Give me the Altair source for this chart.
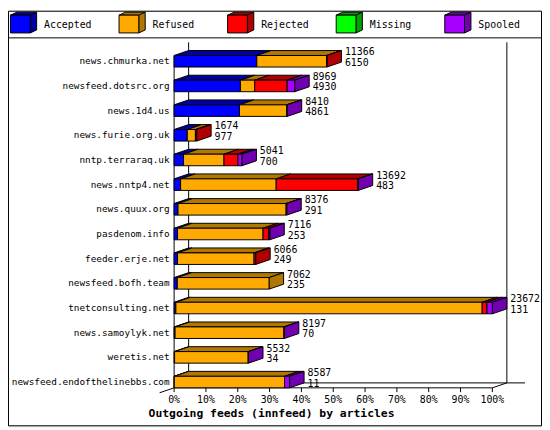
import altair as alt
import pandas as pd

# ---------------- data ----------------
hosts = ["news.chmurka.net", "newsfeed.dotsrc.org", "news.1d4.us", "news.furie.org.uk",
         "nntp.terraraq.uk", "news.nntp4.net", "news.quux.org", "pasdenom.info",
         "feeder.erje.net", "newsfeed.bofh.team", "tnetconsulting.net", "news.samoylyk.net",
         "weretis.net", "newsfeed.endofthelinebbs.com"]
offered = [11366, 8969, 8410, 1674, 5041, 13692, 8376, 7116, 6066, 7062, 23672, 8197, 5532, 8587]
accepted = [6150, 4930, 4861, 977, 700, 483, 291, 253, 249, 235, 131, 70, 34, 11]
refused = [5196, 1060, 3520, 607, 3010, 7110, 8040, 6360, 5697, 6827, 22783, 8097, 5473, 8203]
rejected = [20, 2420, 0, 90, 1040, 6079, 0, 420, 120, 0, 357, 0, 0, 0]
missing = [0, 0, 0, 0, 0, 0, 0, 0, 0, 0, 0, 0, 0, 0]
spooled = [0, 559, 29, 0, 291, 20, 45, 83, 0, 0, 401, 30, 25, 373]

categories = ["Accepted", "Refused", "Rejected", "Missing", "Spooled"]
front_colors = ["#0000FF", "#FFAA00", "#FF0000", "#00FF00", "#A800FF"]
dark_colors = ["#0000A0", "#B07800", "#B00000", "#00A000", "#7000B0"]

tick_values = [0, 10, 20, 30, 40, 50, 60, 70, 80, 90, 100]
tick_labels = ["0%", "10%", "20%", "30%", "40%", "50%", "60%", "70%", "80%", "90%", "100%"]
title_text = "Outgoing feeds (innfeed) by articles"

# ---------------- layout / style ----------------
W, H = 541, 421
X0_PX, X100_PX = 168.3, 490.7
ROW0_PX, ROW_STEP = 51.2, 25.0
PX_PER_PCT = (X100_PX - X0_PX) / 100.0
DEPTH_X = 14.7 / PX_PER_PCT
DEPTH_Y = 5.0 / ROW_STEP
HALF = 5.85 / ROW_STEP
BACK_TOP = -19.2 / ROW_STEP
MONO = "DejaVu Sans Mono"
LEG_FIRST_PX, LEG_STEP_PX = 15.75, 110.0
LEG_Y = 12.0

n = len(hosts)
xs = alt.Scale(domain=[0, 100], range=[X0_PX, X100_PX], nice=False, zero=False)
ys = alt.Scale(domain=[0, n - 1], range=[ROW0_PX, ROW0_PX + ROW_STEP * (n - 1)], nice=False, zero=False)
FLOOR_PX = ROW0_PX + ROW_STEP * (n - 1) + 5.85

series = [accepted, refused, rejected, missing, spooled]
maxv = max(offered)

front, top, side, rows = [], [], [], []
sid = 0
for k, h in enumerate(hosts):
    cum = 0.0
    last = None
    for c, vals, fc, dc in zip(categories, series, front_colors, dark_colors):
        if vals[k] <= 0:
            continue
        v = vals[k] / maxv * 100.0
        front.append(dict(k=k, x0=cum, x1=cum + v, fc=fc, yt=k - HALF, yb=k + HALF))
        top.append(dict(id=sid, yy=k - HALF, xa=cum, xb=cum + v, dc=dc))
        top.append(dict(id=sid, yy=k - HALF - DEPTH_Y, xa=cum + DEPTH_X, xb=cum + v + DEPTH_X, dc=dc))
        sid += 1
        cum += v
        last = dc
    side.append(dict(id=k, sx=cum, ya=k - HALF, yb=k + HALF, dc=last))
    side.append(dict(id=k, sx=cum + DEPTH_X, ya=k - HALF - DEPTH_Y, yb=k + HALF - DEPTH_Y, dc=last))
    rows.append(dict(k=k, host=h, zero=0.0, end=cum, l1=str(offered[k]), l2=str(accepted[k])))

front_df = pd.DataFrame(front)
top_df = pd.DataFrame(top)
side_df = pd.DataFrame(side)
rows_df = pd.DataFrame(rows)

bottom = (n - 1) + HALF
lines_df = pd.DataFrame([
    dict(xa=0, ya=-HALF, xb=0, yb=bottom),                                  # front left axis
    dict(xa=0, ya=bottom, xb=100, yb=bottom),                               # front floor
    dict(xa=100, ya=bottom, xb=100 + DEPTH_X, yb=bottom - DEPTH_Y),         # right floor diagonal
    dict(xa=0, ya=bottom, xb=-DEPTH_X, yb=bottom + DEPTH_Y),                # left floor diagonal
    dict(xa=DEPTH_X, ya=BACK_TOP, xb=DEPTH_X, yb=bottom - DEPTH_Y),         # back left wall
    dict(xa=100 + DEPTH_X, ya=BACK_TOP, xb=100 + DEPTH_X, yb=bottom - DEPTH_Y),  # back right wall
    dict(xa=DEPTH_X, ya=bottom - DEPTH_Y, xb=100 + DEPTH_X + 18.4 / PX_PER_PCT, yb=bottom - DEPTH_Y),
])
ticks_df = pd.DataFrame(dict(t=tick_values, lab=tick_labels))
legend_df = pd.DataFrame(dict(
    name=categories,
    lx=[(LEG_FIRST_PX + LEG_STEP_PX * i - X0_PX) / PX_PER_PCT for i in range(len(categories))],
    fc=front_colors, dc=dark_colors))
one = pd.DataFrame([{"a": 0}])

# ---------------- marks ----------------
frame = alt.Chart(one).mark_rect(fillOpacity=0, stroke="black", strokeWidth=1).encode(
    x=alt.value(0.5), x2=alt.value(W - 0.5), y=alt.value(0.5), y2=alt.value(H - 0.5))
sep = alt.Chart(one).mark_rule(color="black", strokeWidth=1).encode(
    x=alt.value(0), x2=alt.value(W), y=alt.value(27.5))

axis_lines = alt.Chart(lines_df).mark_rule(color="black", strokeWidth=1).encode(
    x=alt.X("xa:Q", scale=xs, axis=None), x2="xb:Q",
    y=alt.Y("ya:Q", scale=ys, axis=None), y2="yb:Q")

tick_marks = alt.Chart(ticks_df).mark_rule(color="black", strokeWidth=1).encode(
    x=alt.X("t:Q", scale=xs, axis=None),
    y=alt.value(FLOOR_PX), y2=alt.value(FLOOR_PX + 4.3))
tick_text = alt.Chart(ticks_df).mark_text(font=MONO, fontSize=10, align="center", baseline="middle",
                                          color="black").encode(
    x=alt.X("t:Q", scale=xs, axis=None), y=alt.value(FLOOR_PX + 12.3), text="lab:N")

top_faces = alt.Chart(top_df).mark_area(orient="horizontal", stroke="black", strokeWidth=1,
                                        opacity=1, interpolate="linear").encode(
    y=alt.Y("yy:Q", scale=ys, axis=None),
    x=alt.X("xa:Q", scale=xs, axis=None, stack=None), x2="xb:Q",
    detail="id:N", fill=alt.Fill("dc:N", scale=None))

side_faces = alt.Chart(side_df).mark_area(orient="vertical", stroke="black", strokeWidth=1,
                                          opacity=1, interpolate="linear").encode(
    x=alt.X("sx:Q", scale=xs, axis=None),
    y=alt.Y("ya:Q", scale=ys, axis=None, stack=None), y2="yb:Q",
    detail="id:N", fill=alt.Fill("dc:N", scale=None))

front_faces = alt.Chart(front_df).mark_rect(stroke="black", strokeWidth=1, opacity=1).encode(
    x=alt.X("x0:Q", scale=xs, axis=None), x2="x1:Q",
    y=alt.Y("yt:Q", scale=ys, axis=None), y2="yb:Q",
    fill=alt.Fill("fc:N", scale=None))

host_text = alt.Chart(rows_df).mark_text(font=MONO, fontSize=9.5, align="right", baseline="middle",
                                         dx=-4.6, color="black").encode(
    x=alt.X("zero:Q", scale=xs, axis=None), y=alt.Y("k:Q", scale=ys, axis=None), text="host:N")
val1 = alt.Chart(rows_df).mark_text(font=MONO, fontSize=10, align="left", baseline="middle",
                                    dx=18.2, dy=-8.9, color="black").encode(
    x=alt.X("end:Q", scale=xs, axis=None), y=alt.Y("k:Q", scale=ys, axis=None), text="l1:N")
val2 = alt.Chart(rows_df).mark_text(font=MONO, fontSize=10, align="left", baseline="middle",
                                    dx=18.2, dy=1.6, color="black").encode(
    x=alt.X("end:Q", scale=xs, axis=None), y=alt.Y("k:Q", scale=ys, axis=None), text="l2:N")

title = alt.Chart(one).mark_text(font=MONO, fontSize=11.5, fontWeight="bold", align="center",
                                 baseline="middle", color="black", text=title_text).encode(
    x=alt.value(267), y=alt.value(FLOOR_PX + 26.2))

# legend: little 3D cubes
dark_path = ("M -1 -0.566 L -0.509 -0.792 L 1 -0.792 L 1 0.566 L 0.509 0.792 L 0.509 -0.566 Z "
             "M 0.509 -0.566 L 1 -0.792")
front_path = "M -1 -0.566 L 0.509 -0.566 L 0.509 0.792 L -1 0.792 Z"
cube_size = 26.5 * 26.5
leg_dark = alt.Chart(legend_df).mark_point(shape=dark_path, size=cube_size, filled=True, opacity=1,
                                           stroke="black", strokeWidth=1).encode(
    x=alt.X("lx:Q", scale=xs, axis=None), y=alt.value(LEG_Y), fill=alt.Fill("dc:N", scale=None))
leg_front = alt.Chart(legend_df).mark_point(shape=front_path, size=cube_size, filled=True, opacity=1,
                                            stroke="black", strokeWidth=1).encode(
    x=alt.X("lx:Q", scale=xs, axis=None), y=alt.value(LEG_Y), fill=alt.Fill("fc:N", scale=None))
leg_text = alt.Chart(legend_df).mark_text(font=MONO, fontSize=10, align="left", baseline="middle",
                                          dx=20.75, color="black").encode(
    x=alt.X("lx:Q", scale=xs, axis=None), y=alt.value(LEG_Y + 2.6), text="name:N")

chart = alt.layer(frame, sep, axis_lines, tick_marks, top_faces, side_faces, front_faces,
                  host_text, val1, val2, tick_text, title, leg_dark, leg_front, leg_text).properties(
    width=W, height=H, autosize=alt.AutoSizeParams(type="none"), padding=0
).configure_view(stroke=None).configure(background="white")

chart.save("out.html", embed_options={"renderer": "svg", "actions": False})
